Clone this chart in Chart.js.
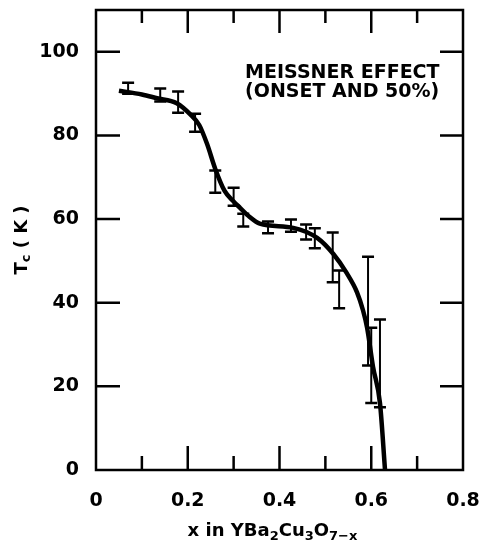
<!DOCTYPE html>
<html>
<head>
<meta charset="utf-8">
<script src="https://cdn.jsdelivr.net/npm/chart.js@4/dist/chart.umd.min.js"></script>
<style>
  body { margin: 0; background: #fff; }
  canvas { display: block; }
</style>
</head>
<body>
<canvas id="chart" width="479" height="542"></canvas>
<script>
// fitted curve
const curveX = [0.05, 0.10, 0.133, 0.176, 0.205, 0.225, 0.242, 0.26, 0.28, 0.30, 0.314, 0.335, 0.357, 0.43, 0.482, 0.517, 0.547, 0.569, 0.582, 0.591, 0.604, 0.619, 0.63];
const curveY = [90.7, 89.8, 88.9, 87.7, 85.1, 82.5, 78, 72, 66.8, 64.2, 62.7, 60.5, 58.9, 57.9, 55.5, 51.7, 47, 42.5, 38.2, 34, 24.6, 16, 0];

// error bars (x, low, high)
const barX = [0.07, 0.14, 0.179, 0.216, 0.26, 0.30, 0.321, 0.375, 0.425, 0.458, 0.477, 0.516, 0.530, 0.593, 0.600, 0.619];
const barLow = [90.0, 88.1, 85.4, 80.9, 66.3, 63.2, 58.2, 56.6, 57.0, 55.1, 53.0, 44.9, 38.7, 25, 16, 15];
const barHigh = [92.6, 91.2, 90.5, 85.2, 71.6, 67.5, 61.3, 59.4, 59.9, 58.7, 57.8, 56.8, 47.7, 51, 34, 36];

const xTicks = [0, 0.2, 0.4, 0.6, 0.8];
const xMinorTicks = [0.1, 0.3, 0.5, 0.7];
const yTicks = [0, 20, 40, 60, 80, 100];

const FONT = "DejaVu Sans";

const framePlugin = {
  id: "frame",
  afterDatasetsDraw(chart) {
    const ctx = chart.ctx;
    const a = chart.chartArea;
    const xs = chart.scales.x, ys = chart.scales.y;
    ctx.save();
    ctx.strokeStyle = "#000";
    ctx.fillStyle = "#000";

    // error bars
    for (let i = 0; i < barX.length; i++) {
      const px = xs.getPixelForValue(barX[i]);
      const top = ys.getPixelForValue(barHigh[i]);
      const bot = ys.getPixelForValue(barLow[i]);
      ctx.lineWidth = 2;
      ctx.beginPath();
      ctx.moveTo(px, top);
      ctx.lineTo(px, bot);
      ctx.stroke();
      ctx.lineWidth = 2.5;
      ctx.beginPath();
      ctx.moveTo(px - 6, top); ctx.lineTo(px + 6, top);
      ctx.moveTo(px - 6, bot); ctx.lineTo(px + 6, bot);
      ctx.stroke();
    }

    // frame
    ctx.lineWidth = 2.5;
    ctx.strokeRect(a.left, a.top, a.right - a.left, a.bottom - a.top);

    // inward ticks
    ctx.beginPath();
    xTicks.slice(1, -1).forEach(v => {
      const p = xs.getPixelForValue(v);
      ctx.moveTo(p, a.bottom); ctx.lineTo(p, a.bottom - 24);
      ctx.moveTo(p, a.top); ctx.lineTo(p, a.top + 23);
    });
    xMinorTicks.forEach(v => {
      const p = xs.getPixelForValue(v);
      ctx.moveTo(p, a.bottom); ctx.lineTo(p, a.bottom - 14);
      ctx.moveTo(p, a.top); ctx.lineTo(p, a.top + 13);
    });
    yTicks.slice(1).forEach(v => {
      const p = ys.getPixelForValue(v);
      ctx.moveTo(a.left, p); ctx.lineTo(a.left + 24, p);
      ctx.moveTo(a.right, p); ctx.lineTo(a.right - 23, p);
    });
    ctx.stroke();

    // annotation
    ctx.font = "bold 19px " + FONT;
    ctx.textAlign = "left";
    ctx.textBaseline = "alphabetic";
    const tx = xs.getPixelForValue(0.325);
    ctx.fillText("MEISSNER EFFECT", tx, ys.getPixelForValue(93.7));
    ctx.fillText("(ONSET AND 50%)", tx, ys.getPixelForValue(89.2));

    // x axis title with subscripts
    const parts = [["x in YBa", 0], ["2", 1], ["Cu", 0], ["3", 1], ["O", 0], ["7\u2212x", 1]];
    const big = "bold 18px " + FONT, small = "bold 13px " + FONT;
    let w = 0;
    parts.forEach(p => { ctx.font = p[1] ? small : big; w += ctx.measureText(p[0]).width; });
    let cx = (a.left + a.right) / 2 - 7 - w / 2;
    parts.forEach(p => {
      ctx.font = p[1] ? small : big;
      ctx.fillText(p[0], cx, p[1] ? 540 : 536);
      cx += ctx.measureText(p[0]).width;
    });

    // y axis title, rotated
    ctx.translate(27, (a.top + a.bottom) / 2);
    ctx.rotate(-Math.PI / 2);
    const yparts = [["T", 0], ["c", 1], [" ( K )", 0]];
    const ybig = "bold 18px " + FONT, ysmall = "bold 13px " + FONT;
    w = 0;
    yparts.forEach(p => { ctx.font = p[1] ? ysmall : ybig; w += ctx.measureText(p[0]).width; });
    cx = -w / 2;
    yparts.forEach(p => {
      ctx.font = p[1] ? ysmall : ybig;
      ctx.fillText(p[0], cx, p[1] ? 3 : 0);
      cx += ctx.measureText(p[0]).width;
    });
    ctx.restore();
  }
};

new Chart(document.getElementById("chart").getContext("2d"), {
  type: "scatter",
  data: {
    datasets: [{
      data: curveX.map((x, i) => ({ x: x, y: curveY[i] })),
      showLine: true,
      borderColor: "#000",
      borderWidth: 4.5,
      pointRadius: 0,
      cubicInterpolationMode: "monotone",
      fill: false
    }]
  },
  options: {
    responsive: false,
    animation: false,
    layout: { padding: { top: 10, right: 16, left: 0, bottom: 0 } },
    plugins: { legend: { display: false }, tooltip: { enabled: false } },
    scales: {
      x: {
        type: "linear",
        min: 0,
        max: 0.8,
        afterBuildTicks: s => { s.ticks = xTicks.map(v => ({ value: v })); },
        afterFit: s => { s.height = 72; s.paddingRight = 0; s.paddingLeft = 0; },
        grid: { display: false },
        border: { display: false },
        ticks: {
          color: "#000",
          padding: 12,
          font: { family: FONT, size: 19, weight: "bold" },
          callback: v => (v === 0 ? "0" : v.toFixed(1))
        }
      },
      y: {
        min: 0,
        max: 110,
        afterBuildTicks: s => { s.ticks = yTicks.map(v => ({ value: v })); },
        afterFit: s => { s.width = 96; s.paddingTop = 0; s.paddingBottom = 0; },
        grid: { display: false },
        border: { display: false },
        ticks: {
          color: "#000",
          padding: 9,
          font: { family: FONT, size: 19, weight: "bold" }
        }
      }
    }
  },
  plugins: [framePlugin]
});
</script>
</body>
</html>
